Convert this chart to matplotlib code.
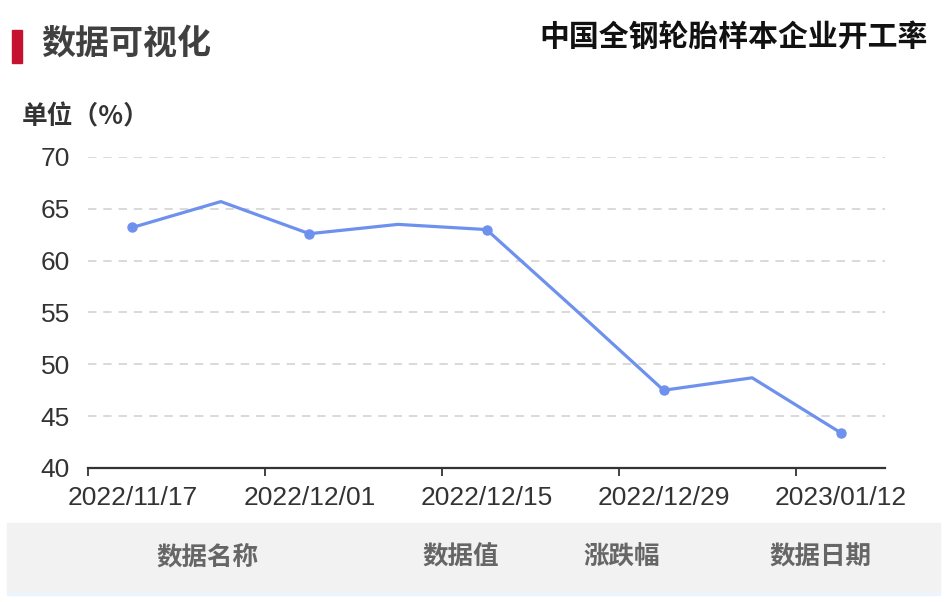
import matplotlib.pyplot as plt
from matplotlib.patches import Rectangle

plt.rcParams['font.family'] = ['Noto Sans CJK SC', 'DejaVu Sans']

# weekly operating rate of all-steel tyre sample plants (%)
dates = ['2022/11/17', '2022/11/24', '2022/12/01', '2022/12/08', '2022/12/15',
         '2022/12/22', '2022/12/29', '2023/01/05', '2023/01/12']
rate = [63.2, 65.7, 62.6, 63.5, 63.0, 55.3, 47.5, 48.7, 43.4]
yticks = [40, 45, 50, 55, 60, 65, 70]
headers = ['数据名称', '数据值', '涨跌幅', '数据日期']

W, H = 947, 602
fig = plt.figure(figsize=(W / 100, H / 100), dpi=100)
fig.patch.set_facecolor('white')

ax = fig.add_axes([88 / W, 1 - 468 / H, (885 - 88) / W, (468 - 157) / H])
xs = list(range(len(dates)))
ax.plot(xs, rate, color='#6d91ed', lw=2.3, solid_joinstyle='round', zorder=3)
ax.plot(xs[::2], rate[::2], 'o', color='#6d91ed', ms=6.5, zorder=4)

ax.set_xlim(-0.5, len(dates) - 0.5)
ax.set_ylim(40, 70)
ax.set_yticks(yticks)
ax.set_yticklabels([str(v) for v in yticks], family='Liberation Sans',
                   fontsize=19, color='#333333')
for v in yticks[1:]:
    ax.axhline(v, color='#d0d0d0', lw=1.1, ls=(0, (5.5, 4.5)), zorder=1)

# category boundaries carry the tick marks, labels sit on every other date
ax.set_xticks([-0.5, 1.5, 3.5, 5.5, 7.5])
ax.set_xticklabels([])
ax.set_xticks(xs[::2], minor=True)
ax.set_xticklabels(dates[::2], minor=True, family='Liberation Sans',
                   fontsize=19, color='#333333')
ax.tick_params(axis='x', which='major', length=6, width=1.3, color='#333333')
ax.tick_params(axis='x', which='minor', length=0, pad=13)
ax.tick_params(axis='y', length=0, pad=13)

for side in ['top', 'right', 'left']:
    ax.spines[side].set_visible(False)
ax.spines['bottom'].set_color('#333333')
ax.spines['bottom'].set_linewidth(1.6)

# header block
fig.patches.append(Rectangle((12 / W, 1 - 63 / H), 10 / W, 33 / H,
                             transform=fig.transFigure, color='#c41230'))
fig.text(41 / W, 1 - 43 / H, '数据可视化', fontsize=24.5, fontweight='bold',
         color='#404040', va='center')
fig.text(928 / W, 1 - 38 / H, '中国全钢轮胎样本企业开工率', fontsize=21.5,
         fontweight='bold', color='#111111', va='center', ha='right')
fig.text(22 / W, 1 - 117 / H, '单位（%）', fontsize=18.5, fontweight='bold',
         color='#333333', va='center')

# table header band
fig.patches.append(Rectangle((7 / W, 1 - 592 / H), 933 / W, 69 / H,
                             transform=fig.transFigure, color='#f2f2f2'))
fig.patches.append(Rectangle((7 / W, 1 - 595 / H), 933 / W, 3 / H,
                             transform=fig.transFigure, color='#eef4fb'))
for x, label in zip([207, 461, 622, 820], headers):
    fig.text(x / W, 1 - 557 / H, label, fontsize=18.4, fontweight='bold',
             color='#666666', ha='center', va='center')

fig.savefig('out.png', dpi=100)
